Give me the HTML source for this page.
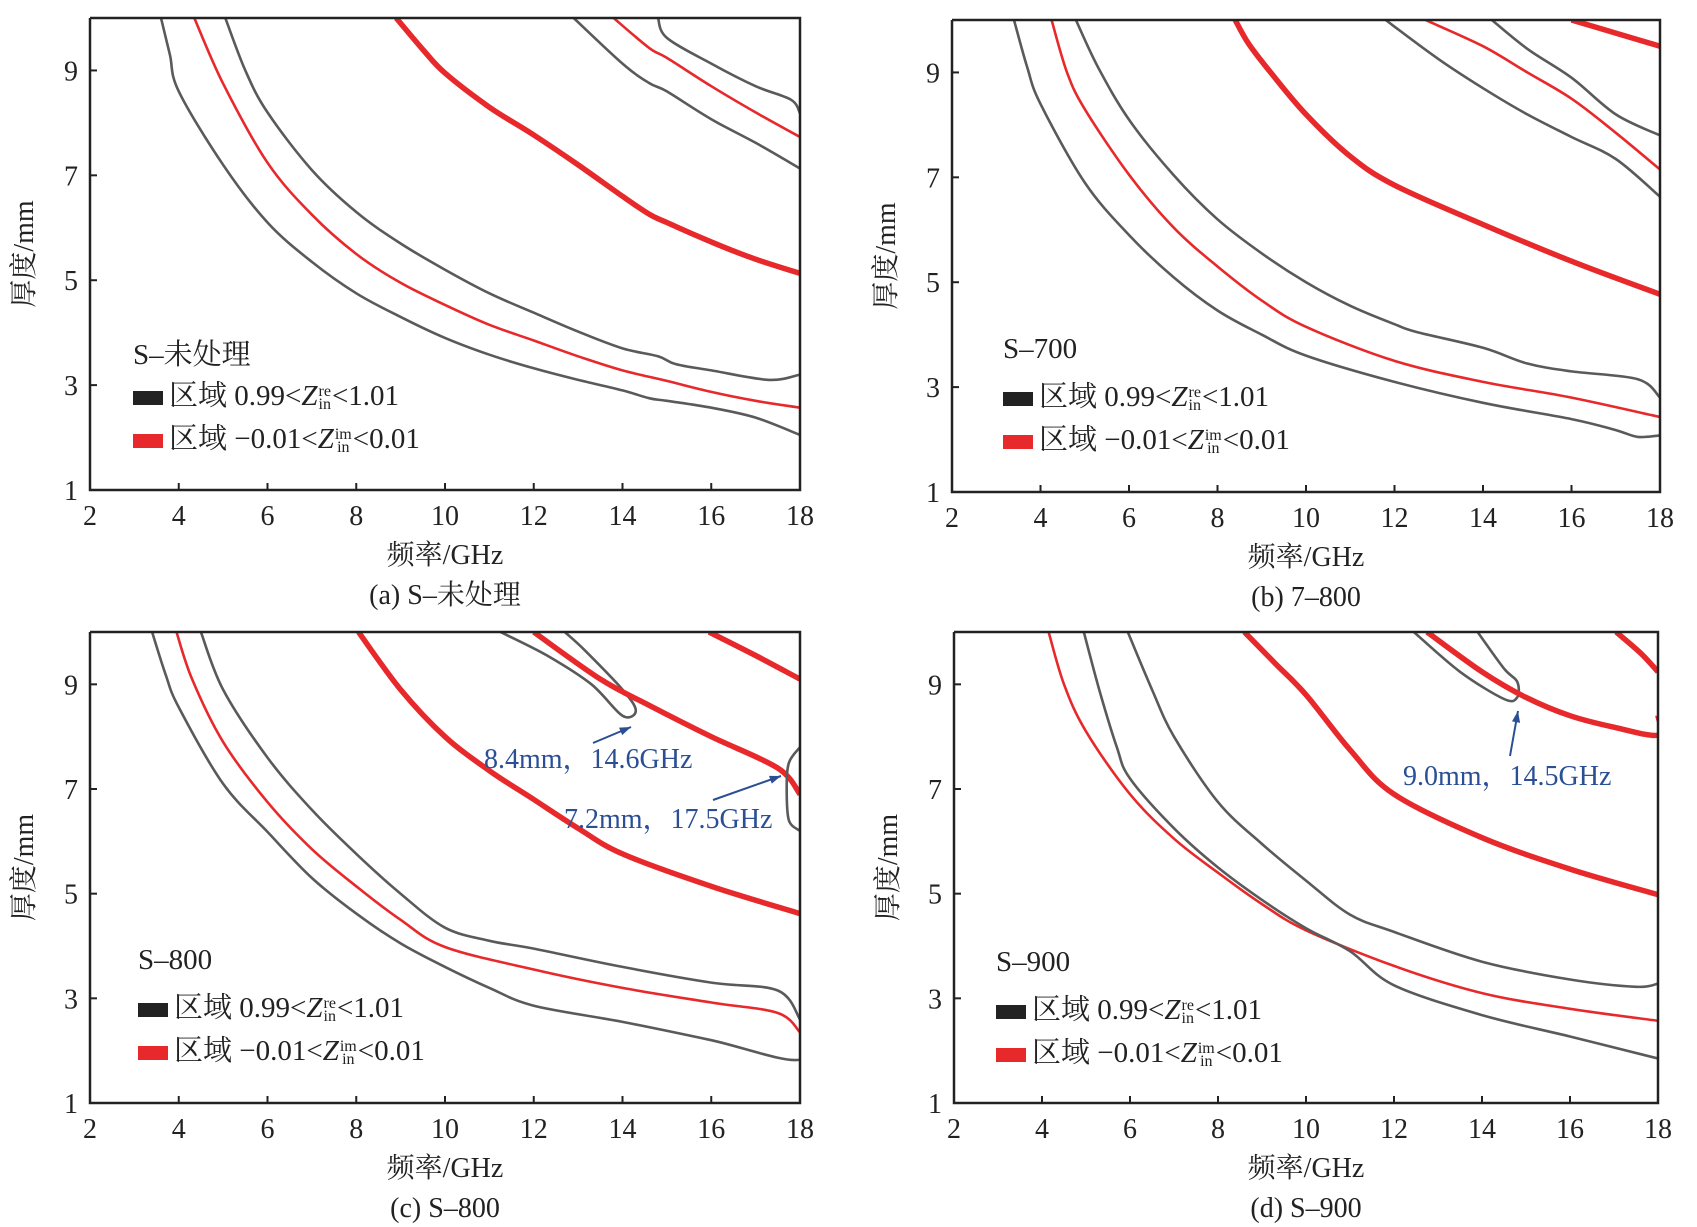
<!DOCTYPE html>
<html><head><meta charset="utf-8">
<style>
body{margin:0;background:#fff;width:1697px;height:1227px;overflow:hidden;font-family:"Liberation Serif","Noto Serif CJK SC",serif;}
svg{position:absolute;left:0;top:0}
.lg{position:absolute;font-size:29px;color:#222;white-space:nowrap;font-family:"Liberation Serif","Noto Serif CJK SC",serif;}
.sw{display:inline-block;width:30px;height:14px;vertical-align:middle;margin-right:6px}
.zs{display:inline-block;vertical-align:middle;font-size:16px;line-height:13px;text-align:center;margin:0 1px}
</style></head><body>
<svg id="chart" width="1697" height="1227"></svg>
<script>
// ---- data (x: GHz, y: mm) ----
const xTicks=[2,4,6,8,10,12,14,16,18];
const yTicks=[1,3,5,7,9];
// Panel a
const aG1x=[3.6,3.8,4,5,6,7,8,9,10,11,12,13,14,14.6,15,16,17,18];
const aG1y=[10,9.3,8.6,7.2,6.1,5.35,4.75,4.3,3.9,3.58,3.32,3.1,2.9,2.75,2.7,2.57,2.38,2.05];
const aR1x=[4.35,5,6,7,8,9,10,11,12,13,14,15,16,17,18];
const aR1y=[10,8.75,7.24,6.25,5.5,4.95,4.53,4.15,3.85,3.55,3.28,3.08,2.87,2.7,2.57];
const aG2x=[5.05,5.5,6,7,8,9,10,11,12,13,14,14.8,15.2,16,17.3,18];
const aG2y=[10,9.0,8.2,7.1,6.3,5.7,5.2,4.75,4.38,4.02,3.7,3.55,3.4,3.28,3.1,3.2];
const aR2x=[8.9,9.5,10,11,12,13,14,14.6,15,16,17,18];
const aR2y=[10,9.4,8.95,8.3,7.77,7.2,6.6,6.26,6.1,5.73,5.4,5.13];
const aG3x=[12.9,14,14.6,15,16,17,18];
const aG3y=[10,9.13,8.76,8.6,8.07,7.62,7.13];
const aR3x=[13.8,14.6,15,16,17,18];
const aR3y=[10,9.43,9.24,8.7,8.2,7.73];
const aG4x=[14.8,15,16,17,17.8,18];
const aG4y=[10,9.62,9.13,8.7,8.44,8.18];
// Panel b
const bG1x=[3.4,3.7,4,5,6,7,8,9,10,12,14,16,17,17.5,18];
const bG1y=[10,9.1,8.4,6.9,5.9,5.1,4.46,4.0,3.6,3.1,2.7,2.39,2.18,2.05,2.08];
const bR1x=[4.25,4.6,5,6,7,8,9,10,12,14,16,18];
const bR1y=[10,9.0,8.3,7.05,6.05,5.3,4.65,4.15,3.5,3.1,2.8,2.43];
const bG2x=[4.8,5.3,6,7,8,9,10,11,12,12.5,14,15,16,17.5,18];
const bG2y=[10,9.1,8.1,7.05,6.2,5.55,5.0,4.55,4.2,4.05,3.75,3.45,3.3,3.15,2.8];
const bR2x=[8.4,8.7,9.2,10,11,12,14,16,18];
const bR2y=[10,9.55,9.0,8.2,7.4,6.85,6.1,5.4,4.77];
const bG3x=[11.8,13,14,15,16,17,18];
const bG3y=[10,9.25,8.7,8.2,7.77,7.35,6.63];
const bR3x=[12.7,14,15,16,17,18];
const bR3y=[10,9.5,9.0,8.5,7.85,7.15];
const bG4x=[14.2,15,16,17,18];
const bG4y=[10,9.45,8.9,8.2,7.8];
const bR4x=[16,17,18];
const bR4y=[10,9.75,9.5];
// Panel c
const cG1x=[3.4,3.7,4,5,6,7,8,9,10,11,12,14,16,18,18];
const cG1y=[10,9.2,8.56,7.1,6.18,5.3,4.62,4.05,3.6,3.2,2.86,2.55,2.2,1.83,2.6];
const cR1x=[3.95,4.3,5,6,7,8,9,10,12,14,16,17.5,18];
const cR1y=[10,9.1,7.9,6.75,5.85,5.14,4.5,3.98,3.55,3.2,2.92,2.72,2.35];
const cG2x=[4.5,5,6,7,8,9,10,11,12,14,16,17.5,18];
const cG2y=[10,8.9,7.6,6.6,5.76,5.0,4.35,4.1,3.95,3.6,3.3,3.15,2.6];
const cR2x=[8.05,9,10,11,12,13,14,16,18];
const cR2y=[10,8.9,8.0,7.35,6.8,6.25,5.76,5.14,4.62];
const cLx=[11.25,12.3,13.3,14.0,14.3,14.0,13.15,12.7];
const cLy=[10,9.55,9.0,8.4,8.5,8.9,9.65,10];
const cR3x=[12.0,13.5,14.6,16,17.5,18];
const cR3y=[10,9.1,8.6,8.0,7.4,6.9];
const cEx=[18,17.75,17.7,17.75,18];
const cEy=[7.8,7.5,7.0,6.4,6.2];
const cR4x=[15.95,17,18];
const cR4y=[10,9.55,9.1];
// Panel d
const dR1x=[4.15,4.5,5,6,7,8,9,10,12,14,16,18];
const dR1y=[10,9.0,8.1,6.9,6.05,5.4,4.8,4.3,3.62,3.1,2.8,2.57];
const dG1x=[4.95,5.3,5.7,6,7,8,9,10,11,12,14,16,18];
const dG1y=[10,8.9,7.8,7.2,6.25,5.5,4.88,4.34,3.9,3.25,2.68,2.27,1.85];
const dG2x=[5.95,6.5,7,8,9,10,11,12,14,16,17.5,18];
const dG2y=[10,8.9,8.0,6.75,5.95,5.25,4.6,4.27,3.7,3.36,3.22,3.28];
const dR2x=[8.6,9.3,10,11,12,14,16,18];
const dR2y=[10,9.4,8.8,7.75,6.9,6.07,5.47,4.98];
const dLx=[12.45,13.5,14.5,14.8,14.8,14.5,13.9];
const dLy=[10,9.24,8.72,8.75,9.05,9.3,10];
const dR3x=[12.75,14,15,16,17,18,18];
const dR3y=[10,9.24,8.75,8.4,8.18,8.03,8.4];
const dR4x=[17.05,17.6,18];
const dR4y=[10,9.6,9.24];

const panels=[
 {id:'a',L:90,R:800,T:18,B:490,cap:'(a) S–未处理',leg:'S–未处理',lx:133,ly:352,
  series:[[aG1x,aG1y,'g'],[aR1x,aR1y,'r'],[aG2x,aG2y,'g'],[aR2x,aR2y,'R'],[aG3x,aG3y,'g'],[aR3x,aR3y,'r'],[aG4x,aG4y,'g']]},
 {id:'b',L:952,R:1660,T:20,B:492,cap:'(b) 7–800',leg:'S–700',lx:1003,ly:353,
  series:[[bG1x,bG1y,'g'],[bR1x,bR1y,'r'],[bG2x,bG2y,'g'],[bR2x,bR2y,'R'],[bG3x,bG3y,'g'],[bR3x,bR3y,'r'],[bG4x,bG4y,'g'],[bR4x,bR4y,'R']]},
 {id:'c',L:90,R:800,T:632,B:1103,cap:'(c) S–800',leg:'S–800',lx:138,ly:964,
  series:[[cG1x,cG1y,'g'],[cR1x,cR1y,'r'],[cG2x,cG2y,'g'],[cR2x,cR2y,'R'],[cLx,cLy,'g'],[cR3x,cR3y,'R'],[cEx,cEy,'g'],[cR4x,cR4y,'R']]},
 {id:'d',L:954,R:1658,T:632,B:1103,cap:'(d) S–900',leg:'S–900',lx:996,ly:966,
  series:[[dR1x,dR1y,'r'],[dG1x,dG1y,'g'],[dG2x,dG2y,'g'],[dR2x,dR2y,'R'],[dLx,dLy,'g'],[dR3x,dR3y,'R'],[dR4x,dR4y,'R']]}
];
const NS='http://www.w3.org/2000/svg';
const svg=document.getElementById('chart');
function mk(t,a,p){const e=document.createElementNS(NS,t);for(const k in a)e.setAttribute(k,a[k]);(p||svg).appendChild(e);return e;}
function smooth(pts){let d='M'+pts[0][0].toFixed(1)+','+pts[0][1].toFixed(1);
 for(let i=0;i<pts.length-1;i++){const p0=pts[i-1]||pts[i],p1=pts[i],p2=pts[i+1],p3=pts[i+2]||p2;
  const c1=[p1[0]+(p2[0]-p0[0])/6,p1[1]+(p2[1]-p0[1])/6],c2=[p2[0]-(p3[0]-p1[0])/6,p2[1]-(p3[1]-p1[1])/6];
  d+=' C'+c1.map(v=>v.toFixed(1))+' '+c2.map(v=>v.toFixed(1))+' '+p2.map(v=>v.toFixed(1));}
 return d;}
const F='"Liberation Serif","Noto Serif CJK SC",serif';
panels.forEach(P=>{
 const sx=v=>P.L+(v-2)/16*(P.R-P.L), sy=v=>P.B-(v-1)/9*(P.B-P.T);
 const g=mk('g',{});
 
 
 const clip=mk('clipPath',{id:'cl'+P.id},g);mk('rect',{x:P.L,y:P.T,width:P.R-P.L,height:P.B-P.T},clip);
 const sg=mk('g',{'clip-path':'url(#cl'+P.id+')'},g);
 P.series.forEach((s,i)=>{
  const pts=s[0].map((x,j)=>[sx(x),sy(s[1][j])]);
  const col=s[2]==='g'?'#5a5a5a':'#e8292b';const w=s[2]==='R'?5.5:2.6;
  const p=mk('path',{d:smooth(pts),fill:'none',stroke:col,'stroke-width':w,'stroke-linejoin':'round'},sg);
  
  
 });
 const fr=mk('path',{d:`M${P.L},${P.T}V${P.B}H${P.R}V${P.T}H${P.L}`,fill:'none',stroke:'#222','stroke-width':2.5},g);
 
 
 xTicks.forEach(t=>{const x=sx(t);mk('line',{x1:x,x2:x,y1:P.B,y2:P.B-7,stroke:'#222','stroke-width':2},g);
  const tx=mk('text',{x:x,y:P.B+35,'text-anchor':'middle','font-size':28,'font-family':F,fill:'#222'},g);tx.textContent=t;
  
  });
 yTicks.forEach(t=>{const y=sy(t);mk('line',{x1:P.L,x2:P.L+7,y1:y,y2:y,stroke:'#222','stroke-width':2},g);
  const tx=mk('text',{x:P.L-12,y:y+10,'text-anchor':'end','font-size':28,'font-family':F,fill:'#222'},g);tx.textContent=t;
  
  });
 const cx=(P.L+P.R)/2;
 const xt=mk('text',{x:cx,y:P.B+74,'text-anchor':'middle','font-size':28,'font-family':F,fill:'#222'},g);xt.textContent='频率/GHz';
 
 
 const cp=mk('text',{x:cx,y:P.B+114,'text-anchor':'middle','font-size':28,'font-family':F,fill:'#222'},g);cp.textContent=P.cap;
 
 
 const ycx=P.L-57,ycy=(P.T+P.B)/2;
 const yt=mk('text',{x:ycx,y:ycy,'text-anchor':'middle','font-size':28,'font-family':F,fill:'#222',transform:`rotate(-90 ${ycx} ${ycy})`},g);yt.textContent='厚度/mm';
 
 
 const lg=document.createElement('div');lg.className='lg';lg.style.left=P.lx+'px';lg.style.top=(P.ly-20)+'px';
 
 
 lg.innerHTML=`<div style="height:41px">${P.leg}</div>
 <div style="height:43px"><span class="sw" style="background:#222"></span>区域 0.99&lt;<i>Z</i><span class="zs">re<br>in</span>&lt;1.01</div>
 <div><span class="sw" style="background:#e8292b"></span>区域 −0.01&lt;<i>Z</i><span class="zs">im<br>in</span>&lt;0.01</div>`;
 document.body.appendChild(lg);
});
function ann(txt,x,y,ax1,ay1,ax2,ay2,name){
 const t=mk('text',{x:x,y:y,'font-size':28,'font-family':F,fill:'#2a4f95'});t.textContent=txt;
 
 
 const l=mk('line',{x1:ax1,y1:ay1,x2:ax2,y2:ay2,stroke:'#2a4f95','stroke-width':2});
 
 
 const ang=Math.atan2(ay2-ay1,ax2-ax1),L=12;
 const p=[[ax2,ay2],[ax2-L*Math.cos(ang-0.35),ay2-L*Math.sin(ang-0.35)],[ax2-L*Math.cos(ang+0.35),ay2-L*Math.sin(ang+0.35)]];
 mk('polygon',{points:p.map(q=>q.join(',')).join(' '),fill:'#2a4f95'});
}
ann('8.4mm，14.6GHz',484,768,593,743,631,727,'annotation-8-4mm');
ann('7.2mm，17.5GHz',564,828,713,800,781,776,'annotation-7-2mm');
ann('9.0mm，14.5GHz',1403,785,1510,756,1518,711,'annotation-9-0mm');
</script>
</body></html>
